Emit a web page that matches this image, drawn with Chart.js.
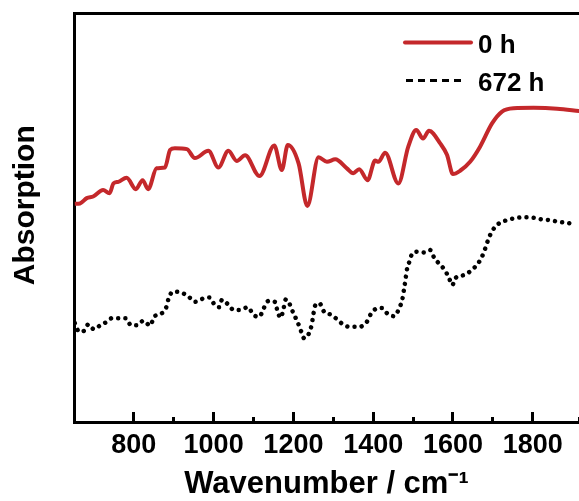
<!DOCTYPE html>
<html>
<head>
<meta charset="utf-8">
<script src="https://cdn.jsdelivr.net/npm/chart.js@4"></script>
<style>
  html, body { margin: 0; padding: 0; background: #fff; }
</style>
</head>
<body>
<canvas id="c" width="579" height="501"></canvas>
<script>
// FTIR spectra, wavenumber (cm-1) vs absorption (a.u.)
const wn0h = [652, 665, 682, 698, 723, 739, 749, 761, 782, 805, 822, 836, 857, 878, 891, 903,
  933, 953, 987, 1012, 1037, 1058, 1079, 1115, 1152, 1171, 1186, 1213, 1235, 1263, 1284, 1305,
  1334, 1350, 1365, 1386, 1405, 1413, 1430, 1463, 1488, 1508, 1525, 1540, 1568, 1585, 1600,
  1618, 1643, 1668, 1698, 1723, 1752, 1802, 1861, 1917];
const abs0h = [0.534, 0.535, 0.548, 0.552, 0.568, 0.560, 0.584, 0.588, 0.598, 0.570, 0.592, 0.570,
  0.621, 0.623, 0.666, 0.670, 0.668, 0.646, 0.664, 0.623, 0.664, 0.639, 0.653, 0.602, 0.677,
  0.617, 0.678, 0.633, 0.529, 0.648, 0.637, 0.643, 0.621, 0.609, 0.619, 0.592, 0.640, 0.637,
  0.659, 0.584, 0.674, 0.715, 0.694, 0.713, 0.682, 0.654, 0.607, 0.615, 0.637, 0.674, 0.731,
  0.760, 0.768, 0.769, 0.767, 0.761];

const wn672h = [652, 663, 675, 686, 700, 715, 730, 745, 761, 780, 793, 809, 824, 841, 851, 866,
  881, 887, 898, 918, 937, 953, 973, 989, 1004, 1014, 1021, 1035, 1051, 1066, 1086, 1100, 1115,
  1125, 1137, 1154, 1160, 1168, 1175, 1181, 1192, 1200, 1210, 1219, 1227, 1239, 1246, 1250,
  1255, 1265, 1277, 1296, 1311, 1327, 1344, 1365, 1384, 1394, 1407, 1422, 1437, 1453, 1465,
  1473, 1477, 1481, 1484, 1491, 1499, 1514, 1528, 1543, 1553, 1565, 1578, 1590, 1598, 1607,
  1629, 1647, 1662, 1673, 1681, 1689, 1700, 1714, 1735, 1756, 1779, 1802, 1823, 1844, 1865,
  1883, 1906];
const abs672h = [0.242, 0.221, 0.223, 0.239, 0.227, 0.236, 0.244, 0.254, 0.254, 0.254, 0.237,
  0.237, 0.248, 0.236, 0.258, 0.264, 0.280, 0.302, 0.319, 0.317, 0.307, 0.294, 0.302, 0.305,
  0.285, 0.281, 0.299, 0.289, 0.274, 0.274, 0.281, 0.262, 0.258, 0.277, 0.296, 0.294, 0.272,
  0.255, 0.276, 0.300, 0.286, 0.266, 0.246, 0.223, 0.205, 0.217, 0.239, 0.263, 0.286, 0.291,
  0.270, 0.262, 0.250, 0.237, 0.233, 0.233, 0.245, 0.264, 0.277, 0.279, 0.264, 0.259, 0.278,
  0.300, 0.323, 0.348, 0.370, 0.393, 0.414, 0.417, 0.415, 0.421, 0.402, 0.388, 0.374, 0.353,
  0.335, 0.353, 0.360, 0.372, 0.387, 0.405, 0.425, 0.448, 0.470, 0.485, 0.494, 0.499, 0.501,
  0.500, 0.496, 0.494, 0.490, 0.488, 0.484];

const seriesLabels = ['0 h', '672 h'];

const RED = '#c4282b';
const SANS = "'Liberation Sans', Arial, sans-serif";

const toPoints = (xs, ys) => xs.map((x, i) => ({ x, y: ys[i] }));

// legend drawn inside the plot, top right
const insideLegend = {
  id: 'insideLegend',
  afterDatasetsDraw(chart) {
    const { ctx, chartArea } = chart;
    const x0 = 405, x1 = 471, tx = 478;
    const rows = [chartArea.top + 29, chartArea.top + 67];
    ctx.save();
    ctx.font = `bold 26px ${SANS}`;
    ctx.textBaseline = 'alphabetic';
    chart.data.datasets.forEach((ds, i) => {
      const y = rows[i];
      ctx.beginPath();
      ctx.strokeStyle = ds.borderColor;
      if (i === 0) {
        ctx.lineWidth = 4;
        ctx.setLineDash([]);
        ctx.lineCap = 'round';
        ctx.moveTo(x0, y);
        ctx.lineTo(x1, y);
      } else {
        ctx.lineWidth = 3;
        ctx.setLineDash([7, 5]);
        ctx.lineCap = 'butt';
        ctx.moveTo(x0 + 1, y);
        ctx.lineTo(x1 - 10, y);
      }
      ctx.stroke();
      ctx.setLineDash([]);
      ctx.fillStyle = '#000';
      ctx.fillText(ds.label, tx, y + 10);
    });
    ctx.restore();
  }
};

const ctx = document.getElementById('c').getContext('2d');
new Chart(ctx, {
  type: 'line',
  data: {
    datasets: [
      {
        label: seriesLabels[0],
        data: toPoints(wn0h, abs0h),
        borderColor: RED,
        borderWidth: 4,
        pointRadius: 0,
        cubicInterpolationMode: 'monotone'
      },
      {
        label: seriesLabels[1],
        data: toPoints(wn672h, abs672h),
        borderColor: '#000',
        borderWidth: 4.5,
        borderDash: [0.01, 7.2],
        borderCapStyle: 'round',
        pointRadius: 0,
        cubicInterpolationMode: 'monotone'
      }
    ]
  },
  options: {
    responsive: false,
    animation: false,
    layout: { padding: { top: 13.5, left: 0, right: 0, bottom: 0 } },
    plugins: {
      legend: { display: false },
      tooltip: { enabled: false }
    },
    scales: {
      x: {
        type: 'linear',
        position: 'bottom',
        min: 650,
        max: 1916,
        ticks: {
          stepSize: 100,
          autoSkip: false,
          maxRotation: 0,
          padding: 17,
          color: '#000',
          font: { family: SANS, size: 27, weight: 'bold' },
          callback: v => (v % 200 === 0 ? String(v) : '')
        },
        grid: {
          drawOnChartArea: false,
          drawTicks: true,
          tickLength: -10,
          tickWidth: 3,
          tickColor: '#000',
          // minor ticks shorter than major ones
          tickBorderDash: c => (c.tick && c.tick.value % 200 !== 0 ? [7, 100] : [])
        },
        border: { display: true, color: '#000', width: 3 },
        title: {
          display: true,
          text: 'Wavenumber / cm⁻¹',
          color: '#000',
          font: { family: SANS, size: 31, weight: 'bold', lineHeight: 1 },
          padding: { top: 0, bottom: 1 }
        },
        afterFit: s => {
          s.height = 79;
          // plot runs to the right edge of the figure
          s.paddingLeft = 0;
          s.paddingRight = 0;
        }
      },
      x2: {
        type: 'linear',
        position: 'top',
        min: 650,
        max: 1916,
        ticks: { display: false },
        grid: { display: false, drawTicks: false },
        border: { display: true, color: '#000', width: 3 },
        afterFit: s => { s.height = 0; }
      },
      y: {
        min: 0,
        max: 1,
        ticks: { display: false },
        grid: { display: false, drawTicks: false },
        border: { display: true, color: '#000', width: 3 },
        title: {
          display: true,
          text: '   Absorption',
          color: '#000',
          font: { family: SANS, size: 30, weight: 'bold', lineHeight: 1.2 },
          padding: { top: 8, bottom: 0 }
        },
        afterFit: s => { s.width = 74; }
      }
    }
  },
  plugins: [insideLegend]
});
</script>
</body>
</html>
